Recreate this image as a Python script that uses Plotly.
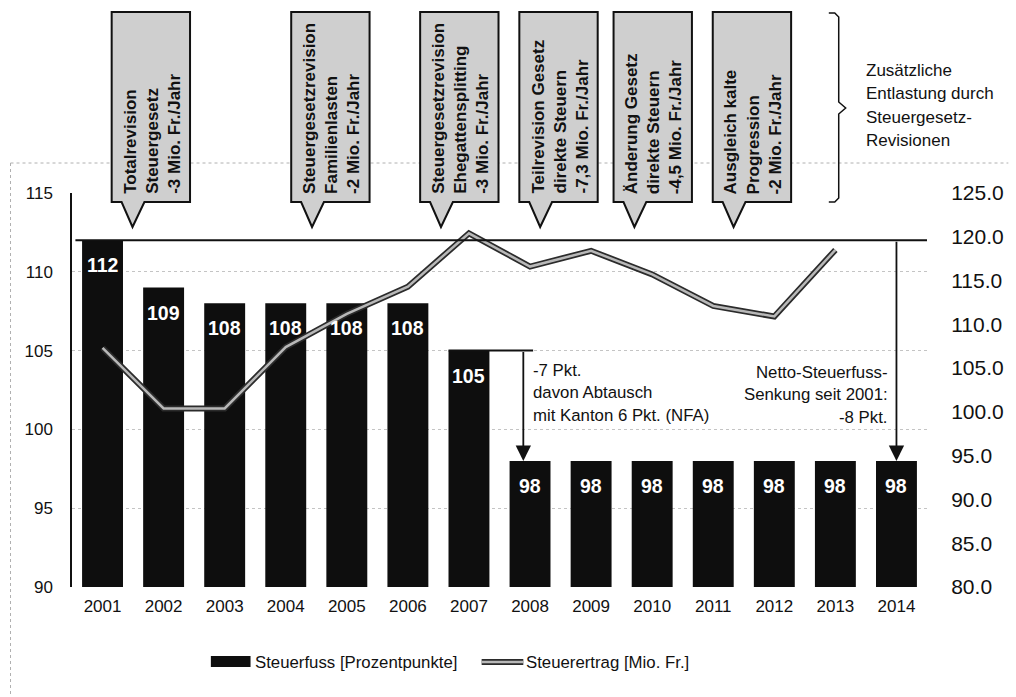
import plotly.graph_objects as go

# --- data -------------------------------------------------------------
jahre = [str(j) for j in range(2001, 2015)]
steuerfuss = [112, 109, 108, 108, 108, 108, 105, 98, 98, 98, 98, 98, 98, 98]
steuerertrag = [107.3, 100.4, 100.4, 107.4, 111.2, 114.3, 120.4,
                116.6, 118.4, 115.7, 112.1, 110.9, 118.5, None]

ticks_links = [90, 95, 100, 105, 110, 115]
ticks_rechts = [80, 85, 90, 95, 100, 105, 110, 115, 120, 125]

revisionen = [
    "Totalrevision<br>Steuergesetz<br>-3 Mio. Fr./Jahr",
    "Steuergesetzrevision<br>Familienlasten<br>-2 Mio. Fr./Jahr",
    "Steuergesetzrevision<br>Ehegattensplitting<br>-3 Mio. Fr./Jahr",
    "Teilrevision Gesetz<br>direkte Steuern<br>-7,3 Mio. Fr./Jahr",
    "Änderung Gesetz<br>direkte Steuern<br>-4,5 Mio. Fr./Jahr",
    "Ausgleich kalte<br>Progression<br>-2 Mio. Fr./Jahr",
]
revision_links_px = [112, 293, 423, 523, 618, 718]

nfa_text = ["-7 Pkt.", "davon Abtausch", "mit Kanton 6 Pkt. (NFA)"]
netto_text = ["Netto-Steuerfuss-", "Senkung seit 2001:", "-8 Pkt."]
klammer_text = ["Zusätzliche", "Entlastung durch", "Steuergesetz-", "Revisionen"]

legende = ["Steuerfuss [Prozentpunkte]", "Steuerertrag [Mio. Fr.]"]

# --- layout helpers ---------------------------------------------------
W, H = 1016, 697
L, R, T, B = 72, 934, 193, 587
ARIAL = "Liberation Sans, Arial, sans-serif"
INK = "#111111"


def px(x):
    return (x - L) / (R - L)


def py(y):
    return (B - y) / (B - T)


def path(points, close=True):
    s = "M " + " L ".join(f"{px(a):.5f},{py(b):.5f}" for a, b in points)
    return s + (" Z" if close else "")


fig = go.Figure()

fig.add_trace(go.Bar(
    x=jahre, y=steuerfuss, width=0.67,
    marker=dict(color="#0e0e0e", line=dict(width=0)),
    name=legende[0], yaxis="y", showlegend=False,
))
# Steuerertrag: dark outline with a light core
fig.add_trace(go.Scatter(
    x=jahre, y=steuerertrag, mode="lines", yaxis="y2",
    line=dict(color="#2b2b2b", width=6), showlegend=False,
))
fig.add_trace(go.Scatter(
    x=jahre, y=steuerertrag, mode="lines", yaxis="y2",
    line=dict(color="#b8b8b8", width=2.5), name=legende[1], showlegend=False,
))

shapes = []
annotations = []

# faint outer frame
shapes.append(dict(type="line", xref="paper", yref="paper",
                   x0=px(10), x1=px(1016), y0=py(163), y1=py(163),
                   line=dict(color="#b0b0b0", width=1, dash="dot")))
shapes.append(dict(type="line", xref="paper", yref="paper",
                   x0=px(10), x1=px(10), y0=py(163), y1=py(697),
                   line=dict(color="#b0b0b0", width=1, dash="dot")))

# reference line at the 2001 level and the step 2007 -> 2008
shapes.append(dict(type="line", xref="paper", yref="y",
                   x0=0.004, x1=1.0, y0=steuerfuss[0], y1=steuerfuss[0],
                   line=dict(color=INK, width=2)))
shapes.append(dict(type="line", xref="x", yref="y",
                   x0=6 - 0.335, x1=7.05, y0=steuerfuss[6], y1=steuerfuss[6],
                   line=dict(color=INK, width=2)))

annotations.append(dict(x=6.89, y=steuerfuss[7], xref="x", yref="y",
                        ax=6.89, ay=steuerfuss[6], axref="x", ayref="y",
                        text="", showarrow=True, arrowhead=2, arrowsize=1.7,
                        arrowwidth=1.8, arrowcolor=INK))
annotations.append(dict(x=13, y=steuerfuss[13], xref="x", yref="y",
                        ax=13, ay=steuerfuss[0], axref="x", ayref="y",
                        text="", showarrow=True, arrowhead=2, arrowsize=1.7,
                        arrowwidth=1.8, arrowcolor=INK))

# value labels inside the bars (category index positions)
for i, v in enumerate(steuerfuss):
    annotations.append(dict(x=i, y=v, xref="x", yref="y", yshift=-25,
                            text=str(v), showarrow=False, yanchor="middle",
                            font=dict(family=ARIAL, size=19.5, color="white",
                                      weight="bold")))

# revision callouts
for txt, x0 in zip(revisionen, revision_links_px):
    x1 = x0 + 79
    pts = [(x0, 12), (x1, 12), (x1, 202), (x0 + 33, 202), (x0 + 21, 227),
           (x0 + 10, 202), (x0, 202)]
    shapes.append(dict(type="path", xref="paper", yref="paper", path=path(pts),
                       fillcolor="#cfcfcf", line=dict(color=INK, width=2)))
    annotations.append(dict(x=px((x0 + x1) / 2 + 1), y=py(196), xref="paper",
                            yref="paper", text=txt, textangle=-90,
                            xanchor="center", yanchor="bottom", align="left",
                            showarrow=False,
                            font=dict(family=ARIAL, size=17, color=INK,
                                      weight="bold")))

# brace to the right of the callouts
brace = [(835, 13), (841, 13), (845, 17), (845, 102), (852, 108), (845, 114),
         (845, 198), (841, 202), (835, 202)]
shapes.append(dict(type="path", xref="paper", yref="paper",
                   path=path(brace, close=False),
                   line=dict(color=INK, width=1.5)))

for i, s in enumerate(klammer_text):
    annotations.append(dict(x=px(870), y=py(70 + 23.5 * i), xref="paper",
                            yref="paper", text=s, showarrow=False,
                            xanchor="left", yanchor="middle",
                            font=dict(family=ARIAL, size=17, color=INK)))

for i, s in enumerate(nfa_text):
    annotations.append(dict(x=px(535), y=py(370 + 22.5 * i), xref="paper",
                            yref="paper", text=s, showarrow=False,
                            xanchor="left", yanchor="middle",
                            font=dict(family=ARIAL, size=16.8, color=INK)))

for i, s in enumerate(netto_text):
    annotations.append(dict(x=px(897), y=py(372 + 22.5 * i), xref="paper",
                            yref="paper", text=s, showarrow=False,
                            xanchor="right", yanchor="middle",
                            font=dict(family=ARIAL, size=16.8, color=INK)))

# legend
shapes.append(dict(type="rect", xref="paper", yref="paper",
                   x0=px(212), x1=px(252), y0=py(656), y1=py(667),
                   fillcolor="#0e0e0e", line=dict(width=0)))
shapes.append(dict(type="line", xref="paper", yref="paper",
                   x0=px(485), x1=px(527), y0=py(662), y1=py(662),
                   line=dict(color="#2b2b2b", width=6)))
shapes.append(dict(type="line", xref="paper", yref="paper",
                   x0=px(485), x1=px(527), y0=py(662), y1=py(662),
                   line=dict(color="#b8b8b8", width=2.5)))
annotations.append(dict(x=px(254), y=py(662), xref="paper", yref="paper",
                        text=legende[0], showarrow=False, xanchor="left",
                        yanchor="middle",
                        font=dict(family=ARIAL, size=16.8, color=INK)))
annotations.append(dict(x=px(528), y=py(662), xref="paper", yref="paper",
                        text=legende[1], showarrow=False, xanchor="left",
                        yanchor="middle",
                        font=dict(family=ARIAL, size=16.8, color=INK)))

fig.update_layout(
    width=W, height=H,
    margin=dict(l=L, r=W - R, t=T, b=H - B, pad=0),
    paper_bgcolor="white", plot_bgcolor="white",
    bargap=0.33, showlegend=False,
    xaxis=dict(type="category", range=[-0.5, 13.5], showline=False,
               showgrid=False, zeroline=False, ticks="outside", ticklen=4,
               tickcolor="rgba(0,0,0,0)",
               tickfont=dict(family=ARIAL, size=17, color=INK)),
    yaxis=dict(range=[90, 115], tickvals=ticks_links, showline=True,
               linecolor=INK, linewidth=1.5, showgrid=True,
               gridcolor="#c4c4c4", griddash="dot", gridwidth=1,
               zeroline=False, ticks="outside", ticklen=14,
               tickcolor="rgba(0,0,0,0)",
               tickfont=dict(family=ARIAL, size=17, color=INK)),
    yaxis2=dict(range=[80, 125], tickvals=ticks_rechts, tickformat=".1f",
                overlaying="y", side="right", showline=False, showgrid=False,
                zeroline=False, ticks="outside", ticklen=19,
                tickcolor="rgba(0,0,0,0)",
                tickfont=dict(family=ARIAL, size=21, color=INK)),
    shapes=shapes, annotations=annotations,
)

fig.write_html("out.html")
